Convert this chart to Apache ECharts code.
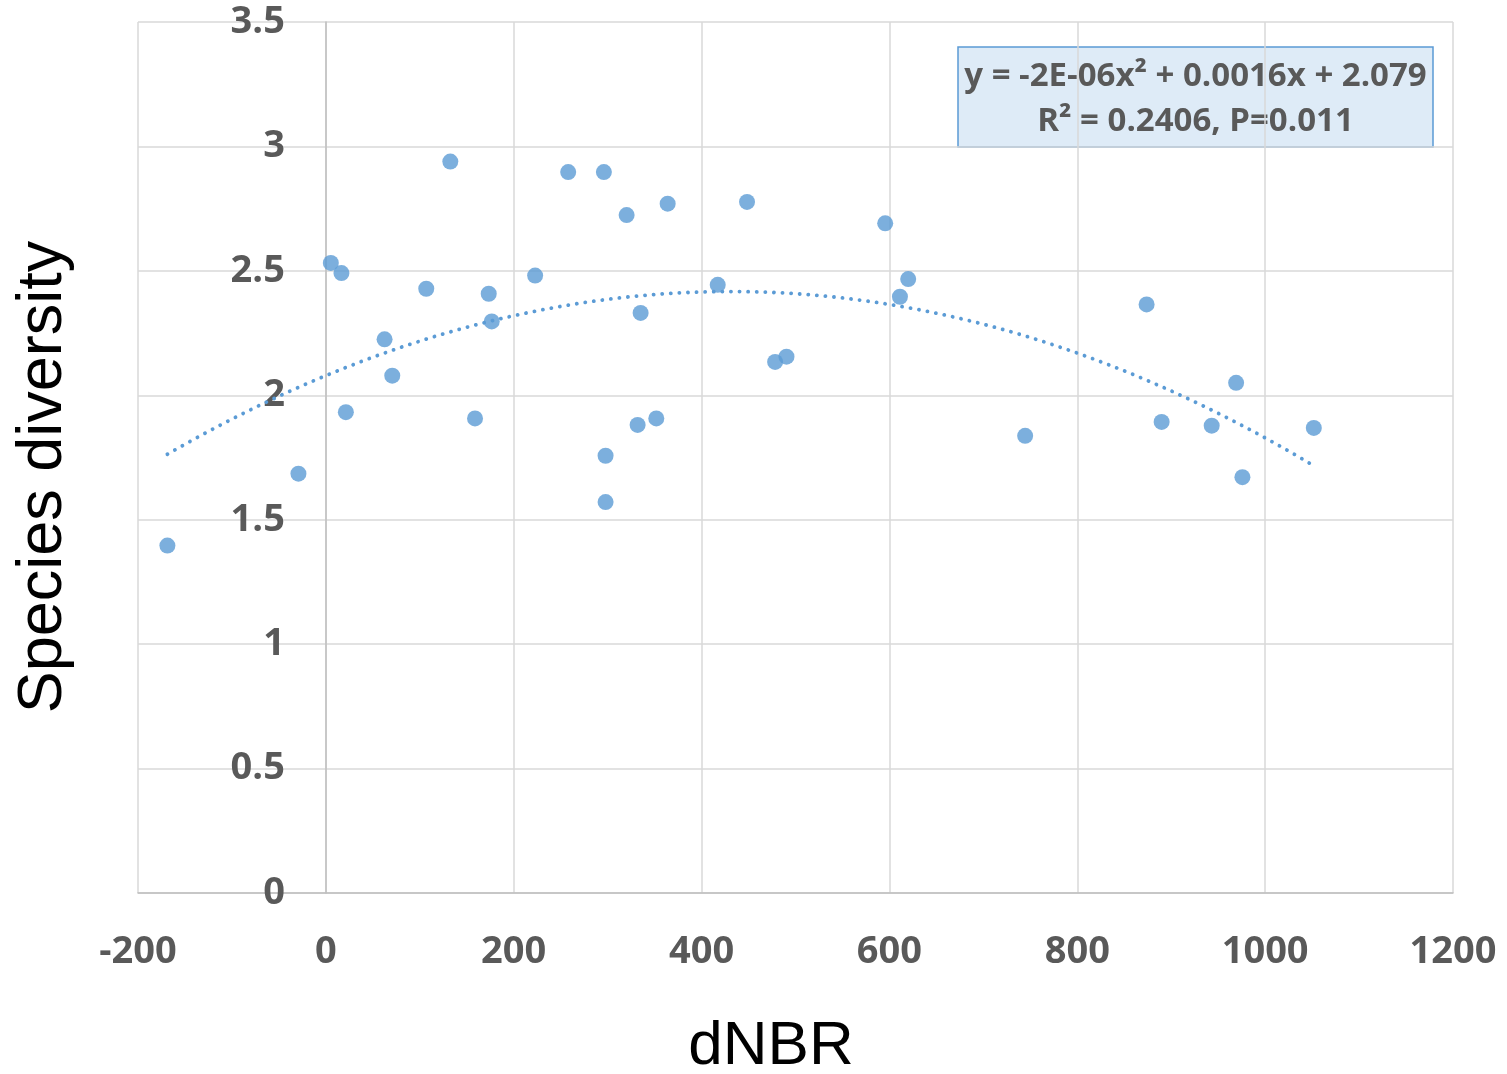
<!DOCTYPE html>
<html>
<head>
<meta charset="utf-8">
<title>Species diversity vs dNBR</title>
<script src="https://cdn.jsdelivr.net/npm/echarts@6/dist/echarts.min.js"></script>
<style>
  html, body { margin: 0; padding: 0; background: #ffffff; }
  #chart { width: 1507px; height: 1074px; }
</style>
</head>
<body>
<div id="chart"></div>
<script>
// Burn severity (dNBR) of each plot
const dnbr = [
  -168.7, -29.2, 5.3, 16.6, 21.3, 62.5, 70.7, 106.9, 132.5, 158.8,
  173.4, 176.6, 222.8, 258.0, 296.0, 320.2, 363.9, 448.4, 595.5, 620.0,
  611.2, 417.2, 335.1, 478.3, 490.4, 331.9, 351.8, 297.8, 297.8, 744.5,
  873.8, 889.8, 943.1, 969.1, 975.8, 1051.8
];
// Species diversity measured on the same plots
const diversity = [
  1.396, 1.685, 2.532, 2.491, 1.932, 2.225, 2.079, 2.428, 2.939, 1.907,
  2.408, 2.297, 2.481, 2.897, 2.897, 2.724, 2.770, 2.777, 2.691, 2.467,
  2.396, 2.444, 2.331, 2.134, 2.155, 1.881, 1.907, 1.757, 1.571, 1.837,
  2.365, 1.893, 1.878, 2.050, 1.671, 1.869
];
// Trendline annotation
const equationLines = ['y = -2E-06x\u00B2 + 0.0016x + 2.079', 'R\u00B2 = 0.2406, P=0.011'];
const xTitle = 'dNBR';
const yTitle = 'Species diversity';

const BLUE = '#5B9BD5';
const GRID = '#D9D9D9';
const LABEL = '#595959';

const GRID_LEFT = 138, GRID_RIGHT = 54, X_MIN = -200, X_MAX = 1200;

// Least-squares second-order polynomial through the plotted points
function quadFit(xs, ys) {
  const S = [0, 0, 0, 0, 0];
  const T = [0, 0, 0];
  for (let i = 0; i < xs.length; i++) {
    let p = 1;
    for (let k = 0; k < 5; k++) { S[k] += p; if (k < 3) T[k] += p * ys[i]; p *= xs[i]; }
  }
  const M = [
    [S[0], S[1], S[2], T[0]],
    [S[1], S[2], S[3], T[1]],
    [S[2], S[3], S[4], T[2]]
  ];
  for (let c = 0; c < 3; c++) {
    let piv = c;
    for (let r = c + 1; r < 3; r++) if (Math.abs(M[r][c]) > Math.abs(M[piv][c])) piv = r;
    [M[c], M[piv]] = [M[piv], M[c]];
    for (let r = 0; r < 3; r++) {
      if (r === c) continue;
      const f = M[r][c] / M[c][c];
      for (let k = c; k < 4; k++) M[r][k] -= f * M[c][k];
    }
  }
  return [M[0][3] / M[0][0], M[1][3] / M[1][1], M[2][3] / M[2][2]]; // c0, c1, c2
}

const coef = quadFit(dnbr, diversity);
const xMin = Math.min(...dnbr), xMax = Math.max(...dnbr);
const trend = [];
for (let i = 0; i <= 120; i++) {
  const x = xMin + (xMax - xMin) * i / 120;
  trend.push([x, coef[0] + coef[1] * x + coef[2] * x * x]);
}
const points = dnbr.map((x, i) => [x, diversity[i]]);

// The value labels sit beside the vertical axis, which crosses at dNBR = 0
const plotWidth = 1507 - GRID_LEFT - GRID_RIGHT;
const zeroOffset = plotWidth * (0 - X_MIN) / (X_MAX - X_MIN);

const chart = echarts.init(document.getElementById('chart'), null, { renderer: 'canvas' });
chart.setOption({
  animation: false,
  backgroundColor: '#ffffff',
  grid: { left: GRID_LEFT, right: GRID_RIGHT, top: 22, bottom: 181, containLabel: false },
  xAxis: {
    type: 'value', min: X_MIN, max: X_MAX, interval: 200,
    axisLine: { show: true, lineStyle: { color: '#BFBFBF', width: 1.5 } },
    axisTick: { show: false },
    axisLabel: {
      color: LABEL, fontFamily: 'Open Sans', fontWeight: 'bold', fontSize: 38, margin: 40,
      formatter: v => String(v)
    },
    splitLine: { show: true, lineStyle: { color: GRID, width: 1.5 } }
  },
  yAxis: {
    type: 'value', min: 0, max: 3.5, interval: 0.5,
    axisLine: { show: true, onZero: true, lineStyle: { color: '#BFBFBF', width: 1.5 } },
    axisTick: { show: false },
    axisLabel: {
      color: LABEL, fontFamily: 'Open Sans', fontWeight: 'bold', fontSize: 38,
      margin: 41 - zeroOffset, align: 'right', verticalAlign: 'middle', padding: [6, 0, 0, 0]
    },
    splitLine: { show: true, lineStyle: { color: GRID, width: 1.5 } }
  },
  graphic: [
    {
      type: 'text', x: 771, y: 1047, silent: true,
      style: { text: xTitle, fill: '#000', font: '62px "Liberation Sans"', align: 'center', verticalAlign: 'middle' }
    },
    {
      type: 'text', x: 44, y: 477, rotation: Math.PI / 2, silent: true,
      style: { text: yTitle, fill: '#000', font: '63px "Liberation Sans"', align: 'center', verticalAlign: 'middle' }
    },
    {
      type: 'group', x: 958, y: 47, silent: true,
      children: [
        { type: 'rect', shape: { x: 0, y: 0, width: 475, height: 100 },
          style: { fill: '#DEEBF7', stroke: BLUE, lineWidth: 1.5 } },
        { type: 'text', x: 237.5, y: 30,
          style: { text: equationLines[0], fill: LABEL, font: 'bold 33px "Open Sans"', align: 'center', verticalAlign: 'middle' } },
        { type: 'text', x: 237.5, y: 75,
          style: { text: equationLines[1], fill: LABEL, font: 'bold 33px "Open Sans"', align: 'center', verticalAlign: 'middle' } }
      ]
    }
  ],
  series: [
    {
      type: 'scatter', data: points, symbol: 'circle', symbolSize: 16,
      itemStyle: { color: BLUE }, z: 2
    },
    {
      type: 'line', data: trend, showSymbol: false, smooth: false, z: 3,
      lineStyle: { color: BLUE, width: 3.8, type: [0.1, 8.5], cap: 'round' }
    }
  ]
});
</script>
</body>
</html>
